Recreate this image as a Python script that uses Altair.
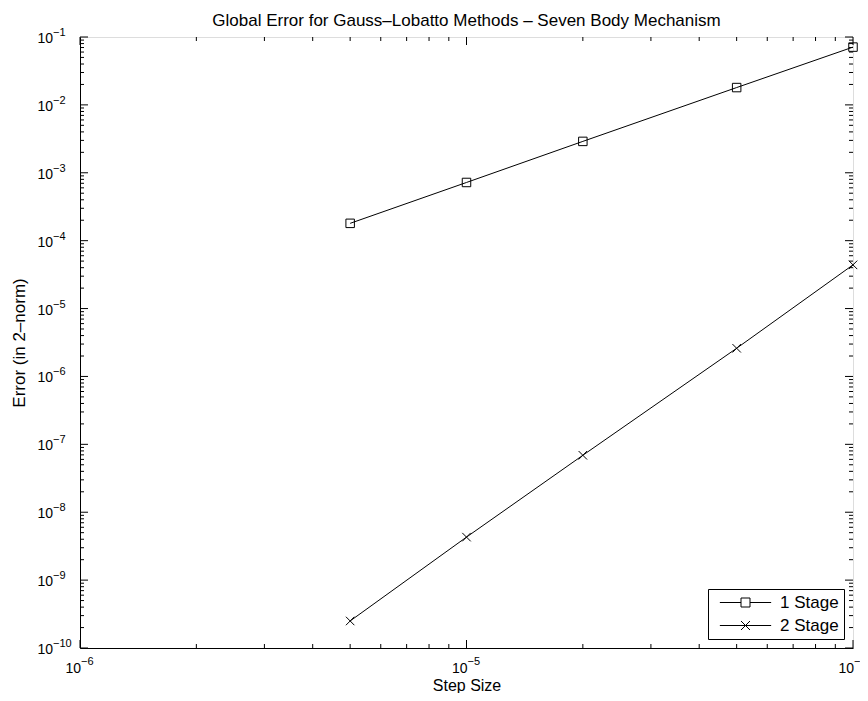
import altair as alt
import pandas as pd

# ---- data ----
step_size = [5e-6, 1e-5, 2e-5, 5e-5, 1e-4]
err_1stage = [1.8e-4, 7.2e-4, 2.9e-3, 1.8e-2, 7.1e-2]
err_2stage = [2.5e-10, 4.3e-9, 6.9e-8, 2.6e-6, 4.4e-5]
series_names = ["1 Stage", "2 Stage"]

x_decades = [1e-6, 1e-5, 1e-4]
x_exponents = ["\u22126", "\u22125", "\u22124"]
y_decades = [1e-10, 1e-9, 1e-8, 1e-7, 1e-6, 1e-5, 1e-4, 1e-3, 1e-2, 1e-1]
y_exponents = ["\u221210", "\u22129", "\u22128", "\u22127", "\u22126",
               "\u22125", "\u22124", "\u22123", "\u22122", "\u22121"]
minor_mult = [2, 3, 4, 5, 6, 7, 8, 9]

TITLE = "Global Error for Gauss\u2013Lobatto Methods \u2013 Seven Body Mechanism"
X_TITLE = "Step Size"
Y_TITLE = "Error (in 2\u2013norm)"

W, H = 773, 611
FONT = "Liberation Sans"

df = pd.DataFrame({
    "x": step_size * 2,
    "y": err_1stage + err_2stage,
    "series": [series_names[0]] * len(step_size) + [series_names[1]] * len(step_size),
})

x_minor = [m * d for d in x_decades[:-1] for m in minor_mult]
y_minor = [m * d for d in y_decades[:-1] for m in minor_mult]

xscale = alt.Scale(type="log", domain=[x_decades[0], x_decades[-1]], nice=False)
yscale = alt.Scale(type="log", domain=[y_decades[0], y_decades[-1]], nice=False)

X_PATH = "M-1,-1L1,1M-1,1L1,-1"
LEG_SQ = "M-5.7,0L-1,0M1,0L5.7,0M-1,-1L1,-1L1,1L-1,1Z"
LEG_X = "M-5.7,0L5.7,0M-1,-1L1,1M-1,1L1,-1"

base = alt.Chart(df)

lines = base.mark_line(color="black", strokeWidth=1).encode(
    x=alt.X("x:Q", scale=xscale,
            axis=alt.Axis(title=X_TITLE, labels=False, ticks=False, grid=False,
                          domainColor="black", titleFont=FONT, titleFontSize=16,
                          titleFontWeight="normal", titleColor="black",
                          titleX=W / 2, titleY=42, titleBaseline="alphabetic")),
    y=alt.Y("y:Q", scale=yscale,
            axis=alt.Axis(title=Y_TITLE, labels=False, ticks=False, grid=False,
                          domainColor="black", titleFont=FONT, titleFontSize=17,
                          titleFontWeight="normal", titleColor="black",
                          titleX=-61, titleY=H / 2, titleBaseline="middle",
                          titleAngle=-90)),
    detail="series:N",
)

points = base.mark_point(filled=False, color="black", strokeWidth=1, size=72, opacity=1).encode(
    x=alt.X("x:Q", scale=xscale),
    y=alt.Y("y:Q", scale=yscale),
    shape=alt.Shape("series:N", scale=alt.Scale(domain=series_names, range=["square", X_PATH]),
                    legend=None),
)

legend_layer = base.transform_filter("false").mark_point(
    filled=False, color="black", strokeWidth=1, size=81, opacity=1
).encode(
    x=alt.X("x:Q", scale=xscale),
    y=alt.Y("y:Q", scale=yscale),
    shape=alt.Shape("series:N",
                    scale=alt.Scale(domain=series_names, range=[LEG_SQ, LEG_X]),
                    legend=alt.Legend(title=None, orient="bottom-right", offset=9,
                                      strokeColor="black", fillColor="white",
                                      padding=5, rowPadding=5,
                                      labelFont=FONT, labelFontSize=17, labelColor="black",
                                      symbolStrokeColor="black", symbolStrokeWidth=1,
                                      symbolFillColor="white", symbolSize=81,
                                      symbolOpacity=1,
                                      symbolOffset=24, labelOffset=26)),
)


def tick_layer(values, axis, side, length):
    d = alt.Data(values=[{"v": v} for v in values])
    c = alt.Chart(d).mark_rule(color="black", strokeWidth=1)
    if axis == "x":
        y0 = H if side == "bottom" else 0
        y1 = H - length if side == "bottom" else length
        return c.encode(x=alt.X("v:Q", scale=xscale), y=alt.value(y0), y2=alt.value(y1))
    x0 = 0 if side == "left" else W
    x1 = length if side == "left" else W - length
    return c.encode(y=alt.Y("v:Q", scale=yscale), x=alt.value(x0), x2=alt.value(x1))


tick_layers = []
for side in ("bottom", "top"):
    tick_layers.append(tick_layer(x_decades, "x", side, 8))
    tick_layers.append(tick_layer(x_minor, "x", side, 4))
for side in ("left", "right"):
    tick_layers.append(tick_layer(y_decades, "y", side, 8))
    tick_layers.append(tick_layer(y_minor, "y", side, 4))

xlab = pd.DataFrame({"v": x_decades, "e": x_exponents})
ylab = pd.DataFrame({"v": y_decades, "e": y_exponents})

x_base_txt = alt.Chart(xlab).mark_text(align="right", baseline="alphabetic", font=FONT,
                                       fontSize=14, dx=1, dy=25, color="black").encode(
    x=alt.X("v:Q", scale=xscale), y=alt.value(H), text=alt.value("10"))
x_exp_txt = alt.Chart(xlab).mark_text(align="left", baseline="alphabetic", font=FONT,
                                      fontSize=11, dx=1, dy=17, color="black").encode(
    x=alt.X("v:Q", scale=xscale), y=alt.value(H), text="e:N")
y_base_txt = alt.Chart(ylab).mark_text(align="right", baseline="alphabetic", font=FONT,
                                       fontSize=14, dy=6, color="black").encode(
    y=alt.Y("v:Q", scale=yscale), x=alt.value(-27), text=alt.value("10"))
y_exp_txt = alt.Chart(ylab).mark_text(align="left", baseline="alphabetic", font=FONT,
                                      fontSize=11, dy=-1, color="black").encode(
    y=alt.Y("v:Q", scale=yscale), x=alt.value(-27), text="e:N")

title_txt = alt.Chart(alt.Data(values=[{"t": TITLE}])).mark_text(
    align="center", baseline="alphabetic", font=FONT, fontSize=17, color="black"
).encode(x=alt.value(W / 2), y=alt.value(-11), text="t:N")

chart = alt.layer(
    lines, points, legend_layer, *tick_layers, x_base_txt, x_exp_txt, y_base_txt, y_exp_txt,
    title_txt
).resolve_scale(shape="independent").properties(
    width=W, height=H,
    autosize=alt.AutoSizeParams(type="none"),
    padding={"left": 72, "top": 29, "right": 7, "bottom": 45},
).configure_view(stroke="black", strokeWidth=1).configure(background="white")

chart.save("out.html", embed_options={"renderer": "svg", "actions": False})
